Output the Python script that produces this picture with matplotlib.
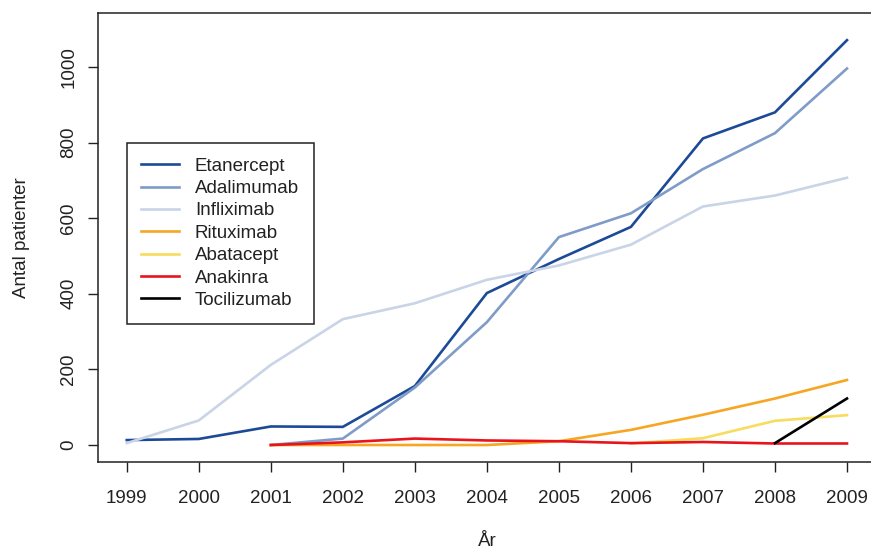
import numpy as np
import matplotlib.pyplot as plt

nan = np.nan

years = list(range(1999, 2010))
drugs = ["Etanercept", "Adalimumab", "Infliximab", "Rituximab",
         "Abatacept", "Anakinra", "Tocilizumab"]

etanercept = [13, 16, 49, 48, 156, 402, 492, 577, 811, 880, 1071]
adalimumab = [nan, nan, 0, 17, 152, 325, 550, 613, 730, 825, 996]
infliximab = [5, 65, 212, 333, 375, 437, 475, 530, 631, 660, 707]
rituximab = [nan, nan, 0, 0, 0, 0, 10, 40, 80, 123, 172]
abatacept = [nan, nan, nan, nan, nan, nan, nan, 4, 18, 64, 79]
anakinra = [nan, nan, 0, 7, 17, 12, 10, 5, 8, 4, 4]
tocilizumab = [nan, nan, nan, nan, nan, nan, nan, nan, nan, 5, 123]

colors = ["#1D4A97", "#7F9CC8", "#C9D4E7", "#F6A623",
          "#F8DC5E", "#E8141C", "#000000"]
series = [etanercept, adalimumab, infliximab, rituximab,
          abatacept, anakinra, tocilizumab]

plt.rcParams["font.family"] = ["Liberation Sans", "DejaVu Sans"]

fig = plt.figure(figsize=(8.71, 5.51), dpi=100)
ax = fig.add_axes([0.1125, 0.1615, 0.893, 0.815])

# draw order: lighter blues under darker, red over orange/yellow
order = [2, 1, 0, 3, 4, 5, 6]
handles = {}
for i in order:
    (ln,) = ax.plot(years, series[i], color=colors[i], lw=1.9,
                    label=drugs[i], zorder=2 + i * 0.1)
    handles[i] = ln

ax.set_xlim(1998.6, 2009.4)
ax.set_ylim(-45, 1143)
ax.set_xticks(years)
ax.set_yticks([0, 200, 400, 600, 800, 1000])
ax.set_yticklabels(["0", "200", "400", "600", "800", "1000"],
                   rotation=90, va="center")
ax.tick_params(direction="out", length=7, width=1, labelsize=13.5,
               color="#222222", labelcolor="#222222")
ax.tick_params(axis="x", pad=13)
ax.tick_params(axis="y", pad=8)
for s in ax.spines.values():
    s.set_linewidth(1.1)
    s.set_color("#222222")

ax.set_xlabel("År", fontsize=13.5, labelpad=19, color="#222222")
ax.set_ylabel("Antal patienter", fontsize=13.5, labelpad=22,
              color="#222222")

leg = ax.legend([handles[i] for i in range(7)], drugs,
                loc="upper left", bbox_to_anchor=(0.0369, 0.7105),
                borderaxespad=0, fancybox=False, framealpha=1,
                edgecolor="#222222", fontsize=13.5, labelspacing=0.28,
                handlelength=2.0, handletextpad=0.85, borderpad=0.78)
leg.get_frame().set_linewidth(1.1)
for t in leg.get_texts():
    t.set_color("#222222")

fig.savefig("out.png", dpi=100)
